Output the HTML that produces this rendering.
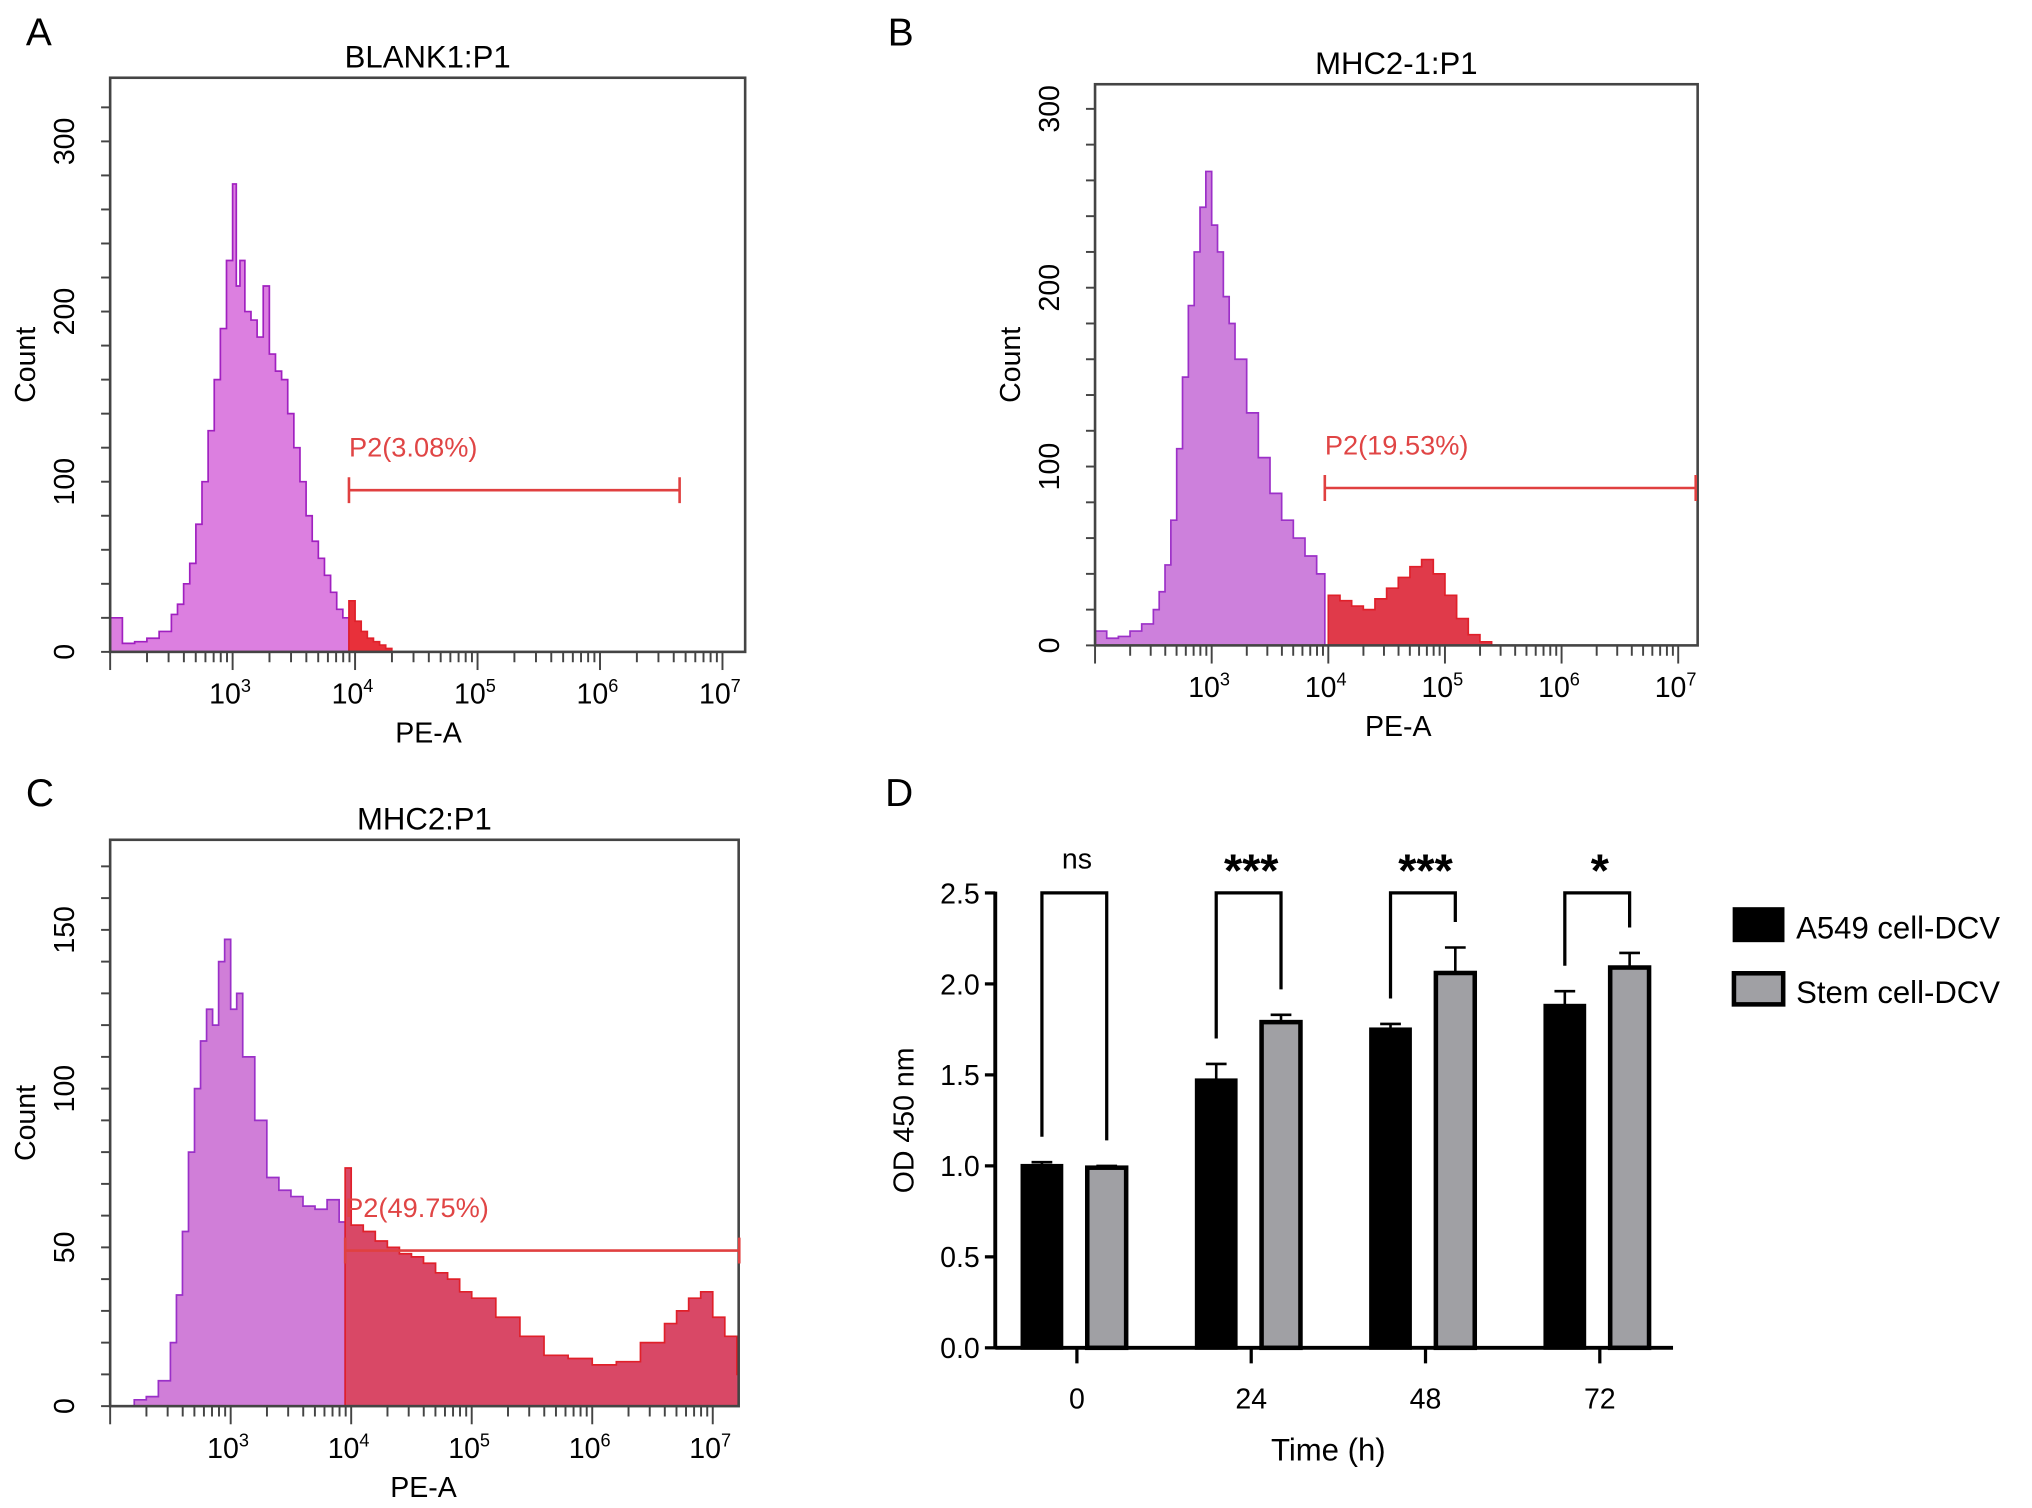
<!DOCTYPE html>
<html><head><meta charset="utf-8"><style>
html,body{margin:0;padding:0;background:#fff}
svg{display:block}
text{font-family:"Liberation Sans",sans-serif}
</style></head><body>
<svg id="fig" width="2032" height="1508" viewBox="0 0 1568 1163.6" preserveAspectRatio="none" xmlns="http://www.w3.org/2000/svg"></svg>
<script>
// Histogram data (log10 PE-A bin centers, counts)
const histA_x = [2.0,2.1,2.2,2.3,2.4,2.5,2.55,2.6,2.65,2.7,2.75,2.8,2.85,2.9,2.95,3.0,3.03,3.06,3.1,3.15,3.2,3.25,3.3,3.35,3.4,3.45,3.5,3.55,3.6,3.65,3.7,3.75,3.8,3.85,3.9,3.95,4.0,4.05,4.1,4.15,4.2,4.25,4.3];
const histA_y = [20,5,6,8,12,22,28,40,52,75,100,130,160,190,230,275,215,230,200,195,185,215,175,165,160,140,120,100,80,65,55,45,35,25,20,30,18,12,8,6,4,2,0];
const histB_x = [2.0,2.1,2.2,2.3,2.4,2.5,2.55,2.6,2.65,2.7,2.75,2.8,2.85,2.9,2.95,3.0,3.05,3.1,3.15,3.2,3.3,3.4,3.5,3.6,3.7,3.8,3.9,4.0,4.1,4.2,4.3,4.4,4.5,4.6,4.7,4.8,4.9,5.0,5.1,5.2,5.3,5.4];
const histB_y = [8,4,5,8,12,20,30,45,70,110,150,190,220,245,265,235,220,195,180,160,130,105,85,70,60,50,40,28,25,22,20,26,32,38,44,48,40,28,15,6,2,0];
const histC_x = [2.2,2.3,2.4,2.5,2.55,2.6,2.65,2.7,2.75,2.8,2.85,2.9,2.95,3.0,3.05,3.1,3.2,3.3,3.4,3.5,3.6,3.7,3.8,3.9,3.95,4.0,4.1,4.2,4.3,4.4,4.5,4.6,4.7,4.8,4.9,5.0,5.2,5.4,5.6,5.8,6.0,6.2,6.4,6.6,6.7,6.8,6.9,7.0,7.1,7.2];
const histC_y = [2,3,8,20,35,55,80,100,115,125,120,140,147,125,130,110,90,72,68,66,63,62,65,58,75,57,55,52,50,48,47,45,42,40,36,34,28,22,16,15,13,14,20,26,30,34,36,28,22,10];
// Bar chart data
const timeLabels = ["0","24","48","72"];
const a549Vals = [1.00,1.47,1.75,1.88];
const a549Err = [0.02,0.09,0.03,0.08];
const stemVals = [0.99,1.79,2.06,2.09];
const stemErr = [0.01,0.04,0.14,0.08];
const sigLabels = ["ns","***","***","*"];
const odTicks = [0,0.5,1.0,1.5,2.0,2.5];

const NS="http://www.w3.org/2000/svg";
const svg=document.getElementById('fig');
function el(tag,attrs,parent,txt){const e=document.createElementNS(NS,tag);for(const k in attrs)e.setAttribute(k,attrs[k]);if(txt!==undefined)e.textContent=txt;(parent||svg).appendChild(e);return e;}
const defs=el('defs',{});

function histPanel(cfg,xs,ys){
  const g=el('g',{});
  
  
  const X=v=>cfg.x0+(v-2)*cfg.dec;
  const Y=v=>cfg.yb-v*cfg.ppc;
  const cp=el('clipPath',{id:cfg.name+'-clip'},defs);
  el('rect',{x:cfg.x0,y:cfg.top,width:cfg.x1-cfg.x0,height:cfg.yb-cfg.top},cp);
  const t=el('text',{x:cfg.letterX,y:cfg.letterY,'font-size':30},g,cfg.letter);
  
  const ti=el('text',{x:(cfg.x0+cfg.x1)/2,y:cfg.top-8,'font-size':24,'text-anchor':'middle'},g,cfg.title);
  
  const ag=el('g',{'clip-path':`url(#${cfg.name}-clip)`},g);
  function area(filter,fill,stroke){
    let d='',first=true,lastX=null;
    for(let i=0;i<xs.length;i++){
      if(!filter(xs[i]))continue;
      const xa=X(Math.max(xs[i],filter.lo)),xb=X(i<xs.length-1?Math.min(xs[i+1],filter.hi):xs[i]+0.05);
      if(first){d+=`M${xa},${cfg.yb} L${xa},${Y(ys[i])}`;first=false;} else d+=` L${xa},${Y(ys[i])}`;
      d+=` L${xb},${Y(ys[i])}`;lastX=xb;
    }
    d+=` L${lastX},${cfg.yb} Z`;
    const p=el('path',{d:d,fill:fill,stroke:stroke,'stroke-width':1.3},ag);
    
  }
  const f1=v=>v<cfg.gate; f1.lo=2; f1.hi=cfg.gate;
  const f2=v=>v>=cfg.gate-0.0001; f2.lo=cfg.gate; f2.hi=99;
  area(f1,cfg.purple,cfg.pstroke);
  area(f2,cfg.red,'#e0202a');
  const fr=el('rect',{x:cfg.x0,y:cfg.top,width:cfg.x1-cfg.x0,height:cfg.yb-cfg.top,fill:'none',stroke:'#444','stroke-width':2},g);
  
  for(let v=0;v<=cfg.ymaxTick;v+=cfg.minor){
    const y=Y(v);if(y<cfg.top)break;
    el('line',{x1:cfg.x0-7,x2:cfg.x0,y1:y,y2:y,stroke:'#444','stroke-width':1.5},g);
  }
  cfg.yTicks.forEach(v=>{
    const y=Y(v);
    const tx=el('text',{transform:`translate(${cfg.x0-28},${y}) rotate(-90)`,'font-size':22,'text-anchor':'middle'},g,String(v));
    
  });
  const yl=el('text',{transform:`translate(${cfg.x0-58},${(cfg.top+cfg.yb)/2}) rotate(-90)`,'font-size':22,'text-anchor':'middle'},g,'Count');
  
  for(let dcd=2;dcd<=7;dcd++){
    for(let m=1;m<10;m++){
      const v=dcd+Math.log10(m);const x=X(v);if(x>cfg.x1+1)break;
      const len=m===1?14:8;
      el('line',{x1:x,x2:x,y1:cfg.yb,y2:cfg.yb+len,stroke:'#444','stroke-width':1.5},g);
    }
    if(dcd>=3){
      const lb=el('text',{x:X(dcd)-2,y:cfg.yb+40,'font-size':22,'text-anchor':'middle'},g);
      
      el('tspan',{},lb,'10');el('tspan',{'font-size':14,dy:-9},lb,String(dcd));
    }
  }
  const xl=el('text',{x:X(4.6),y:cfg.yb+70,'font-size':22,'text-anchor':'middle'},g,'PE-A');
  
  const gx1=X(cfg.gate),gx2=X(cfg.gateEnd),gy=Y(cfg.gateY);
  const gl=el('path',{d:`M${gx1},${gy} L${gx2},${gy} M${gx1},${gy-10} L${gx1},${gy+10} M${gx2},${gy-10} L${gx2},${gy+10}`,stroke:'#e04040','stroke-width':2,fill:'none'},g);
  
  const gt=el('text',{x:gx1,y:gy-26,'font-size':21,fill:'#e04545'},g,cfg.gateLabel);
  
}

histPanel({name:'panel-a-histogram',letter:'A',letterX:20,letterY:35,title:'BLANK1:P1',x0:85,x1:575,top:60,yb:503,dec:94.5,ppc:1.313,ymaxTick:330,minor:20,yTicks:[0,100,200,300],gate:3.95,gateEnd:6.65,gateY:95,gateLabel:'P2(3.08%)',purple:'#dc7fe0',pstroke:'#a020c0',red:'#e8303a'},histA_x,histA_y);
histPanel({name:'panel-b-histogram',letter:'B',letterX:685,letterY:35,title:'MHC2-1:P1',x0:845,x1:1310,top:65,yb:498,dec:90,ppc:1.38,ymaxTick:310,minor:20,yTicks:[0,100,200,300],gate:3.97,gateEnd:7.15,gateY:88,gateLabel:'P2(19.53%)',purple:'#cd80dc',pstroke:'#9c30c8',red:'#e03a4a'},histB_x,histB_y);
histPanel({name:'panel-c-histogram',letter:'C',letterX:20,letterY:622,title:'MHC2:P1',x0:85,x1:570,top:648,yb:1085,dec:93,ppc:2.45,ymaxTick:175,minor:10,yTicks:[0,50,100,150],gate:3.95,gateEnd:7.22,gateY:49,gateLabel:'P2(49.75%)',purple:'#d07ed8',pstroke:'#9a30c8',red:'#d94866'},histC_x,histC_y);

(function(){
  const g=el('g',{});
  
  
  const y0=1040,ppu=140.4,axX=768;
  const Y=v=>y0-v*ppu;
  const cx=i=>831+i*134.5;
  const L=el('text',{x:683,y:622,'font-size':30},g,'D');
  
  el('line',{x1:axX,x2:axX,y1:Y(2.5)-1,y2:y0+1,stroke:'#000','stroke-width':3},g);
  el('line',{x1:axX,x2:1291,y1:y0,y2:y0,stroke:'#000','stroke-width':3},g);
  odTicks.forEach(v=>{
    el('line',{x1:axX-8,x2:axX,y1:Y(v),y2:Y(v),stroke:'#000','stroke-width':2.5},g);
    const t=el('text',{x:axX-12,y:Y(v)+8,'font-size':22,'text-anchor':'end'},g,v.toFixed(1));
    
  });
  const yt=el('text',{transform:`translate(705,${Y(1.25)}) rotate(-90)`,'font-size':22,'text-anchor':'middle'},g,'OD 450 nm');
  
  const xt=el('text',{x:1025,y:1127,'font-size':24,'text-anchor':'middle'},g,'Time (h)');
  
  const bw=30;
  timeLabels.forEach((lab,i)=>{
    const c=cx(i);
    el('line',{x1:c,x2:c,y1:y0,y2:y0+12,stroke:'#000','stroke-width':2.5},g);
    const tl=el('text',{x:c,y:y0+47,'font-size':22,'text-anchor':'middle'},g,lab);
    
    const xa=c-42,xb=c+8;
    const ya=Y(a549Vals[i]),yb=Y(stemVals[i]);
    [[xa,a549Vals[i],a549Err[i]],[xb,stemVals[i],stemErr[i]]].forEach(([x,v,e])=>{
      const m=x+bw/2;
      el('path',{d:`M${m},${Y(v)} L${m},${Y(v+e)} M${m-8},${Y(v+e)} L${m+8},${Y(v+e)} M${m-8},${Y(v-e)} L${m+8},${Y(v-e)}`,stroke:'#000','stroke-width':2},g);
    });
    const b1=el('rect',{x:xa,y:ya,width:bw,height:y0-ya,fill:'#000',stroke:'#000','stroke-width':3},g);
    
    const b2=el('rect',{x:xb,y:yb,width:bw,height:y0-yb,fill:'#a0a0a4',stroke:'#000','stroke-width':3.5},g);
    
    const top=Y(2.5);
    const la=Y(a549Vals[i]+a549Err[i]+0.14),lb=Y(stemVals[i]+stemErr[i]+0.14);
    const br=el('path',{d:`M${xa+bw/2},${la} L${xa+bw/2},${top} L${xb+bw/2},${top} L${xb+bw/2},${lb}`,fill:'none',stroke:'#000','stroke-width':2.5},g);
    
    const s=el('text',{x:c,y:sigLabels[i]==='ns'?670:684,'font-size':sigLabels[i]==='ns'?22:36,'font-weight':sigLabels[i]==='ns'?'normal':'bold','text-anchor':'middle'},g,sigLabels[i]);
    
  });
  const lg=el('g',{},g);
  
  const e1=el('g',{},lg);
  
  el('rect',{x:1338,y:701,width:38,height:25,fill:'#000',stroke:'#000','stroke-width':2},e1);
  el('text',{x:1386,y:724,'font-size':24},e1,'A549 cell-DCV');
  const e2=el('g',{},lg);
  
  el('rect',{x:1338,y:751,width:38,height:24,fill:'#a0a0a4',stroke:'#000','stroke-width':3.5},e2);
  el('text',{x:1386,y:774,'font-size':24},e2,'Stem cell-DCV');
})();
</script>
</body></html>
